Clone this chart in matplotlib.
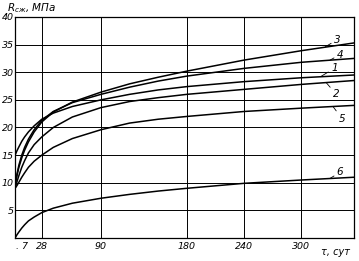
import matplotlib.pyplot as plt
import numpy as np

# days of hardening and strength curves
days = [0, 2, 4, 7, 10, 14, 20, 28, 40, 60, 90, 120, 150, 180, 240, 300, 355]
c1 = [15.0, 15.8, 16.5, 17.5, 18.3, 19.2, 20.3, 21.5, 22.6, 23.8, 25.0, 26.0, 26.8, 27.4, 28.3, 29.0, 29.5]
c2 = [9.0, 10.2, 11.3, 12.8, 14.0, 15.4, 16.9, 18.3, 20.0, 21.9, 23.6, 24.7, 25.4, 26.0, 26.9, 27.8, 28.5]
c3 = [9.5, 11.3, 12.8, 14.5, 15.9, 17.4, 19.2, 21.0, 22.8, 24.6, 26.4, 27.9, 29.1, 30.2, 32.2, 33.9, 35.3]
c4 = [9.5, 11.6, 13.2, 15.0, 16.4, 17.9, 19.6, 21.3, 22.9, 24.5, 26.0, 27.3, 28.4, 29.3, 30.7, 31.8, 32.5]
c5 = [9.0, 9.5, 10.1, 11.0, 11.8, 12.8, 13.9, 15.0, 16.4, 18.0, 19.6, 20.8, 21.5, 22.0, 22.9, 23.5, 24.0]
c6 = [0.0, 0.6, 1.1, 1.8, 2.4, 3.1, 3.8, 4.6, 5.4, 6.3, 7.2, 7.9, 8.5, 9.0, 9.9, 10.5, 11.0]

xticks = [7, 28, 90, 180, 240, 300]
xticklabels = ['. 7', '28', '90', '180', '240', '300']
yticks = [5, 10, 15, 20, 25, 30, 35, 40]
xgrid = [28, 90, 180, 240, 300]

fig = plt.figure(figsize=(3.59, 2.61), dpi=100)
ax = fig.add_axes([0.042, 0.088, 0.944, 0.847])

for x in xgrid:
    ax.axvline(x, color='black', lw=0.7, zorder=1)
for y in yticks[:-1]:
    ax.axhline(y, color='black', lw=0.7, zorder=1)

for c in [c1, c2, c3, c4, c5, c6]:
    ax.plot(days, c, color='black', lw=1.1, zorder=2)

# curve numbers with short leaders
labels = [('3', (325, 34.6), (334, 35.9)),
          ('4', (330, 32.2), (337, 33.2)),
          ('1', (320, 29.2), (331, 30.7)),
          ('2', (326, 28.1), (333, 26.0)),
          ('5', (333, 23.8), (339, 21.6)),
          ('6', (330, 10.8), (337, 11.9))]
for txt, xy, xyt in labels:
    ax.annotate(txt, xy=xy, xytext=xyt, fontsize=7.5, style='italic',
                ha='left', va='center',
                arrowprops=dict(arrowstyle='-', lw=0.6, color='black',
                                shrinkA=0, shrinkB=0))

ax.set_xlim(0, 355)
ax.set_ylim(0, 40)
ax.set_xticks(xticks)
ax.set_xticklabels(xticklabels)
ax.set_yticks(yticks)
ax.tick_params(axis='x', length=0, labelsize=6.8, pad=3)
ax.tick_params(axis='y', length=0, labelsize=6.8, pad=1)
for lab in ax.get_xticklabels() + ax.get_yticklabels():
    lab.set_style('italic')
for s in ax.spines.values():
    s.set_linewidth(0.9)

ax.text(336, -1.6, 'τ, сут', fontsize=7, style='italic', ha='center', va='top')
fig.text(0.02, 0.995, r'$R_{сж}$, МПа', fontsize=7.5, style='italic',
         ha='left', va='top')

fig.savefig('out.png', dpi=100)
